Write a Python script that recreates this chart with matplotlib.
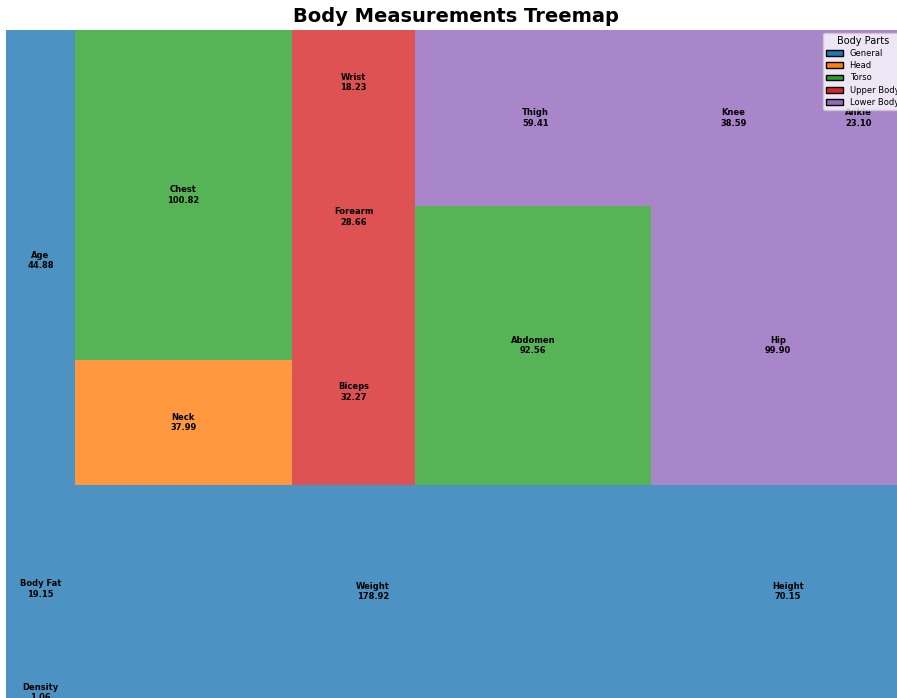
import matplotlib
matplotlib.use("Agg")
import matplotlib.pyplot as plt
from matplotlib.patches import Rectangle, Patch

# data (order as laid out in the treemap)
labels = ["Density", "Body Fat", "Age", "Weight", "Height", "Neck", "Chest",
          "Biceps", "Forearm", "Wrist", "Abdomen", "Hip", "Thigh", "Knee", "Ankle"]
values = [1.06, 19.15, 44.88, 178.92, 70.15, 37.99, 100.82,
          32.27, 28.66, 18.23, 92.56, 99.90, 59.41, 38.59, 23.10]
groups = ["General", "General", "General", "General", "General", "Head", "Torso",
          "Upper Body", "Upper Body", "Upper Body", "Torso", "Lower Body",
          "Lower Body", "Lower Body", "Lower Body"]
group_names = ["General", "Head", "Torso", "Upper Body", "Lower Body"]
group_colors = {"General": "tab:blue", "Head": "tab:orange", "Torso": "tab:green",
                "Upper Body": "tab:red", "Lower Body": "tab:purple"}


# simple squarify layout (same algorithm as the squarify package)
def layoutrow(sizes, x, y, dx, dy):
    w = sum(sizes) / dy
    rects = []
    for s in sizes:
        rects.append((x, y, w, s / w))
        y += s / w
    return rects


def layoutcol(sizes, x, y, dx, dy):
    h = sum(sizes) / dx
    rects = []
    for s in sizes:
        rects.append((x, y, s / h, h))
        x += s / h
    return rects


def layout(sizes, x, y, dx, dy):
    return layoutrow(sizes, x, y, dx, dy) if dx >= dy else layoutcol(sizes, x, y, dx, dy)


def leftover(sizes, x, y, dx, dy):
    if dx >= dy:
        w = sum(sizes) / dy
        return x + w, y, dx - w, dy
    h = sum(sizes) / dx
    return x, y + h, dx, dy - h


def worst_ratio(sizes, x, y, dx, dy):
    return max(max(r[2] / r[3], r[3] / r[2]) for r in layout(sizes, x, y, dx, dy))


def squarify(sizes, x, y, dx, dy):
    if len(sizes) == 0:
        return []
    if len(sizes) == 1:
        return layout(sizes, x, y, dx, dy)
    i = 1
    while i < len(sizes) and worst_ratio(sizes[:i], x, y, dx, dy) >= worst_ratio(sizes[:i + 1], x, y, dx, dy):
        i += 1
    lx, ly, ldx, ldy = leftover(sizes[:i], x, y, dx, dy)
    return layout(sizes[:i], x, y, dx, dy) + squarify(sizes[i:], lx, ly, ldx, ldy)


total = sum(values)
norm = [v * 100 * 100 / total for v in values]
rects = squarify(norm, 0, 0, 100, 100)

fig = plt.figure(figsize=(8.97, 6.98), dpi=100)
ax = fig.add_axes([0.0065, 0.0, 1.0025, 0.957])

for (x, y, w, h), lab, val, g in zip(rects, labels, values, groups):
    ax.add_patch(Rectangle((x, y), w, h, facecolor=group_colors[g], alpha=0.8, linewidth=0))
    ax.text(x + w / 2, y + h / 2, f"{lab}\n{val:.2f}", ha="center", va="center",
            fontsize=6, fontweight="bold")

ax.set_xlim(0, 100)
ax.set_ylim(0, 100)
ax.axis("off")

handles = [Patch(facecolor=group_colors[g], edgecolor="black", label=g) for g in group_names]
ax.legend(handles=handles, title="Body Parts", loc="upper right", fontsize=6,
          title_fontsize=7, borderaxespad=0.3, labelspacing=0.38)

ax.set_title("Body Measurements Treemap", fontsize=14, fontweight="bold")

fig.savefig("out.png", dpi=100)
